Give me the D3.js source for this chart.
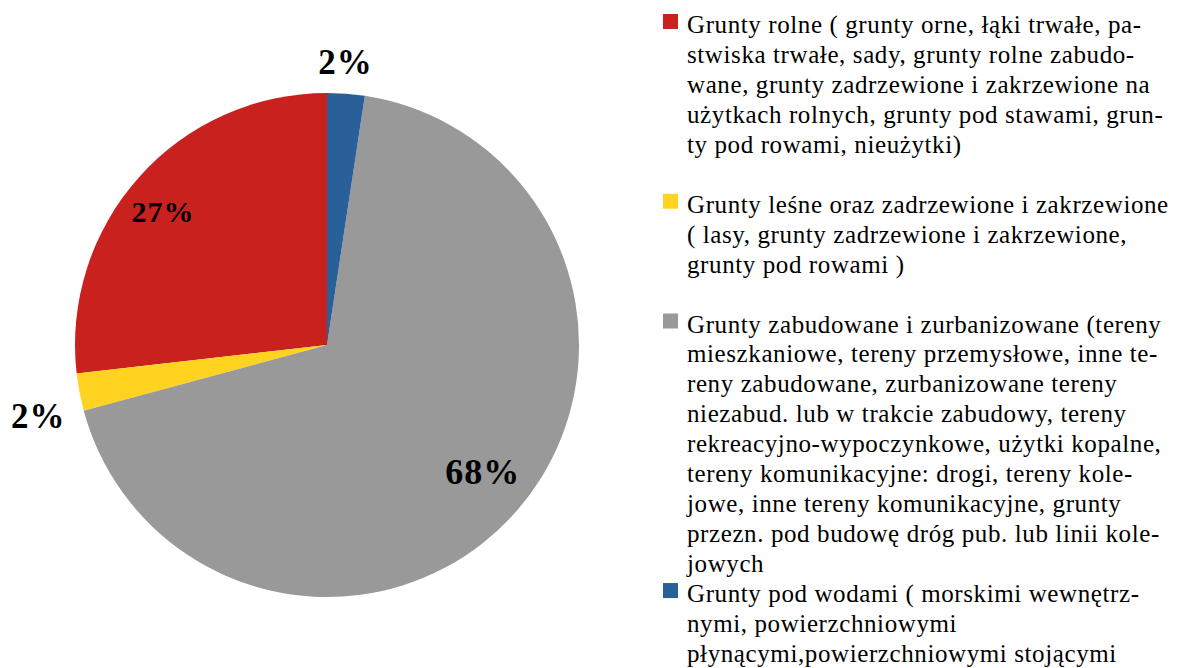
<!DOCTYPE html>
<html>
<head>
<meta charset="utf-8">
<script src="https://cdn.jsdelivr.net/npm/d3@7"></script>
<style>
  html, body { margin: 0; padding: 0; background: #fff; }
  svg { display: block; }
</style>
</head>
<body>
<svg id="chart" width="1184" height="668"></svg>
<script>
// Data (legend order)
const categories = ["Grunty rolne", "Grunty leśne", "Grunty zabudowane", "Grunty pod wodami"];
const values = [26.8, 2.4, 68.4, 2.4];
const colors = ["#C9211E", "#FFD320", "#999999", "#2A6099"];
const legendLines = [
  ["Grunty rolne ( grunty orne, łąki trwałe, pa-",
   "stwiska trwałe, sady, grunty rolne zabudo-",
   "wane, grunty zadrzewione i zakrzewione na",
   "użytkach rolnych, grunty pod stawami, grun-",
   "ty pod rowami, nieużytki)"],
  ["Grunty leśne oraz zadrzewione i zakrzewione",
   "( lasy, grunty zadrzewione i zakrzewione,",
   "grunty pod rowami )"],
  ["Grunty zabudowane i zurbanizowane (tereny",
   "mieszkaniowe, tereny przemysłowe, inne te-",
   "reny zabudowane, zurbanizowane tereny",
   "niezabud. lub w trakcie zabudowy, tereny",
   "rekreacyjno-wypoczynkowe, użytki kopalne,",
   "tereny komunikacyjne: drogi, tereny kole-",
   "jowe, inne tereny komunikacyjne, grunty",
   "przezn. pod budowę dróg pub. lub linii kole-",
   "jowych"],
  ["Grunty pod wodami ( morskimi wewnętrz-",
   "nymi, powierzchniowymi",
   "płynącymi,powierzchniowymi stojącymi"]
];
const legendGapAfter = [1, 1, 0, 0];

const svg = d3.select("#chart");
const cx = 327, cy = 345, r = 252;
const font = "'Liberation Serif', 'Times New Roman', Times, serif";

const pie = d3.pie().sort(null).startAngle(0).endAngle(-2 * Math.PI);
const arcs = pie(values);
const arc = d3.arc().innerRadius(0).outerRadius(r);

const g = svg.append("g").attr("transform", `translate(${cx},${cy})`);
g.selectAll("path").data(arcs).join("path")
  .attr("d", arc)
  .attr("fill", (d, i) => colors[i]);

// Label placements (relative to radius, angular nudge in degrees) and sizes
const labelRadius = [0.838, 1.18, 0.796, 1.125];
const labelNudge = [-2.7, -3, -2.7, -0.6];
const labelSize = [30, 35, 36, 35];
g.selectAll("text.lbl").data(arcs).join("text")
  .attr("class", "lbl")
  .attr("transform", (d, i) => {
    const a = (d.startAngle + d.endAngle) / 2 + labelNudge[i] * Math.PI / 180;
    const rr = r * labelRadius[i];
    return `translate(${rr * Math.sin(a)},${-rr * Math.cos(a)})`;
  })
  .attr("text-anchor", "middle")
  .attr("dy", "0.34em")
  .attr("font-family", font)
  .attr("font-weight", "bold")
  .attr("font-size", (d, i) => labelSize[i])
  .attr("letter-spacing", 1)
  .text(d => Math.round(d.data) + "%");

// Legend
const lineH = 29.95;
const lx = 663, tx = 687;
let y = 33;
const leg = svg.append("g");
legendLines.forEach((lines, i) => {
  leg.append("rect").attr("x", lx).attr("y", y - 19).attr("width", 15).attr("height", 15)
    .attr("fill", colors[i]);
  const t = leg.append("text").attr("font-family", font).attr("font-size", 25)
    .attr("letter-spacing", 0.6).attr("fill", "#000");
  lines.forEach((ln, j) => {
    t.append("tspan").attr("x", tx).attr("y", y + j * lineH).text(ln);
  });
  y += (lines.length + legendGapAfter[i]) * lineH;
});
</script>
</body>
</html>
